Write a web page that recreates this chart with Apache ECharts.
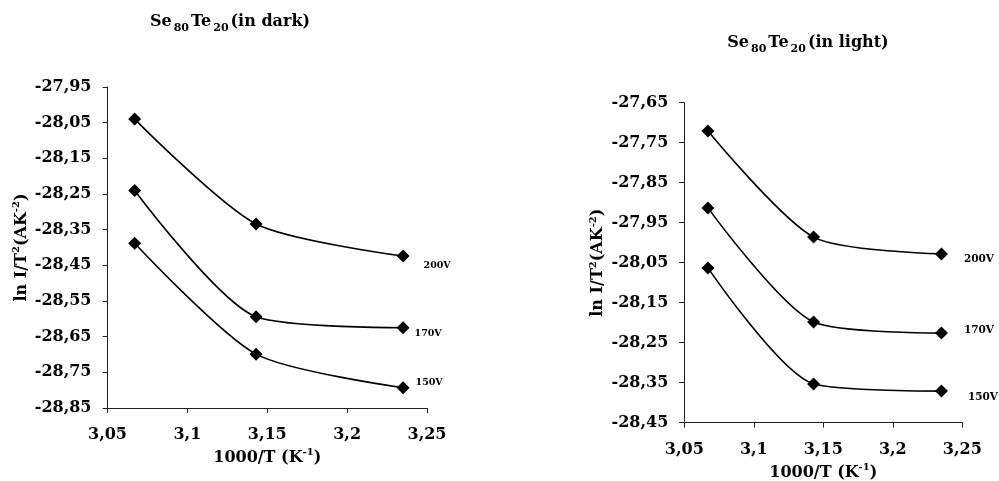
<!DOCTYPE html>
<html><head><meta charset="utf-8">
<script src="https://cdn.jsdelivr.net/npm/echarts@6/dist/echarts.min.js"></script>
<style>html,body{margin:0;padding:0;background:#fff}#c{width:999px;height:481px}</style>
</head><body><div id="c"></div>
<script>
// ---- data ----
const xValues = [3.067, 3.143, 3.235];
const seriesNames = ['200V', '170V', '150V'];
const dark200 = [-28.040, -28.334, -28.424];
const dark170 = [-28.240, -28.594, -28.625];
const dark150 = [-28.388, -28.699, -28.793];
const light200 = [-27.721, -27.986, -28.028];
const light170 = [-27.913, -28.198, -28.226];
const light150 = [-28.063, -28.353, -28.371];
const xAxisRange = [3.05, 3.25];
const xAxisStep = 0.05;
const darkYRange = [-28.85, -27.95];
const lightYRange = [-28.45, -27.65];
const yAxisStep = 0.1;

// ---- style ----
const FONT = '"DejaVu Serif", "Liberation Serif", serif';
const AXC = '#222';
const chart = echarts.init(document.getElementById('c'), null, {renderer: 'canvas'});

const fmtX = v => String(+v.toFixed(2)).replace('.', ',');
const fmtY = v => v.toFixed(2).replace('.', ',');

function titleText(cond) {
  return '{a|Se}{s|80}{a|Te}{s|20}{a|(' + cond + ')}';
}
const titleRich = {
  a: {fontFamily: FONT, fontWeight: 'bold', fontSize: 16, color: '#000', lineHeight: 24},
  s: {fontFamily: FONT, fontWeight: 'bold', fontSize: 11, color: '#000', lineHeight: 24, verticalAlign: 'bottom', padding: [0, 2, 0, 2]}
};
const nameRich = {
  a: {fontFamily: FONT, fontWeight: 'bold', fontSize: 16, color: '#000', lineHeight: 20},
  p: {fontFamily: FONT, fontWeight: 'bold', fontSize: 10, color: '#000', lineHeight: 20, verticalAlign: 'top'}
};

function xAxisCfg(gi, gap) {
  return {
    gridIndex: gi, type: 'value', min: xAxisRange[0], max: xAxisRange[1], interval: xAxisStep,
    name: '{a|1000/T (K}{p|-1}{a|)}', nameLocation: 'middle', nameGap: gap,
    nameTextStyle: {rich: nameRich},
    axisLine: {show: true, onZero: false, lineStyle: {color: AXC, width: 1}},
    axisTick: {show: true, length: 5, lineStyle: {color: AXC}},
    axisLabel: {margin: 19, formatter: fmtX, fontFamily: FONT, fontWeight: 'bold', fontSize: 16, color: '#000'},
    splitLine: {show: false}
  };
}
function yAxisCfg(gi, range) {
  return {
    gridIndex: gi, type: 'value', min: range[0], max: range[1], interval: yAxisStep,
    name: '{a|ln I/T}{p|2}{a|(AK}{p|-2}{a|)}', nameLocation: 'middle', nameGap: 76, nameRotate: 90,
    nameTextStyle: {rich: nameRich},
    axisLine: {show: true, onZero: false, lineStyle: {color: AXC, width: 1}},
    axisTick: {show: true, length: 5, lineStyle: {color: AXC}},
    axisLabel: {margin: 16, formatter: fmtY, fontFamily: FONT, fontWeight: 'bold', fontSize: 16, color: '#000'},
    splitLine: {show: false}
  };
}

const labelOffsets = {
  dark: [[9, 9], [0, 6], [1, -5]],
  light: [[11, 5], [11, -3], [15, 6]]
};
const labelSizes = {dark: 9.5, light: 10.5};

function mkSeries(gi, arr, idx, key) {
  return {
    type: 'line', xAxisIndex: gi, yAxisIndex: gi, name: seriesNames[idx],
    data: xValues.map((x, i) => [x, arr[i]]),
    smooth: 0.25,
    symbol: 'diamond', symbolSize: 13,
    lineStyle: {color: '#000', width: 1.6},
    itemStyle: {color: '#000'},
    label: {
      show: true, position: 'right', distance: 5, offset: labelOffsets[key][idx],
      fontFamily: FONT, fontWeight: 'bold', fontSize: labelSizes[key], color: '#000',
      formatter: p => p.dataIndex === xValues.length - 1 ? seriesNames[idx] : ''
    },
    emphasis: {disabled: true},
    animation: false
  };
}

chart.setOption({
  backgroundColor: '#fff',
  animation: false,
  title: [
    {text: titleText('in dark'), left: 225, top: 5, textAlign: 'center', textStyle: {rich: titleRich}},
    {text: titleText('in light'), left: 803, top: 26, textAlign: 'center', textStyle: {rich: titleRich}}
  ],
  grid: [
    {left: 107.5, right: 572, top: 87, bottom: 73, containLabel: false, outerBoundsMode: 'none'},
    {left: 684.3, right: 36.7, top: 102.7, bottom: 58.3, containLabel: false, outerBoundsMode: 'none'}
  ],
  xAxis: [xAxisCfg(0, 33), xAxisCfg(1, 35)],
  yAxis: [yAxisCfg(0, darkYRange), yAxisCfg(1, lightYRange)],
  series: [
    mkSeries(0, dark200, 0, 'dark'),
    mkSeries(0, dark170, 1, 'dark'),
    mkSeries(0, dark150, 2, 'dark'),
    mkSeries(1, light200, 0, 'light'),
    mkSeries(1, light170, 1, 'light'),
    mkSeries(1, light150, 2, 'light')
  ]
});
</script>
</body></html>
